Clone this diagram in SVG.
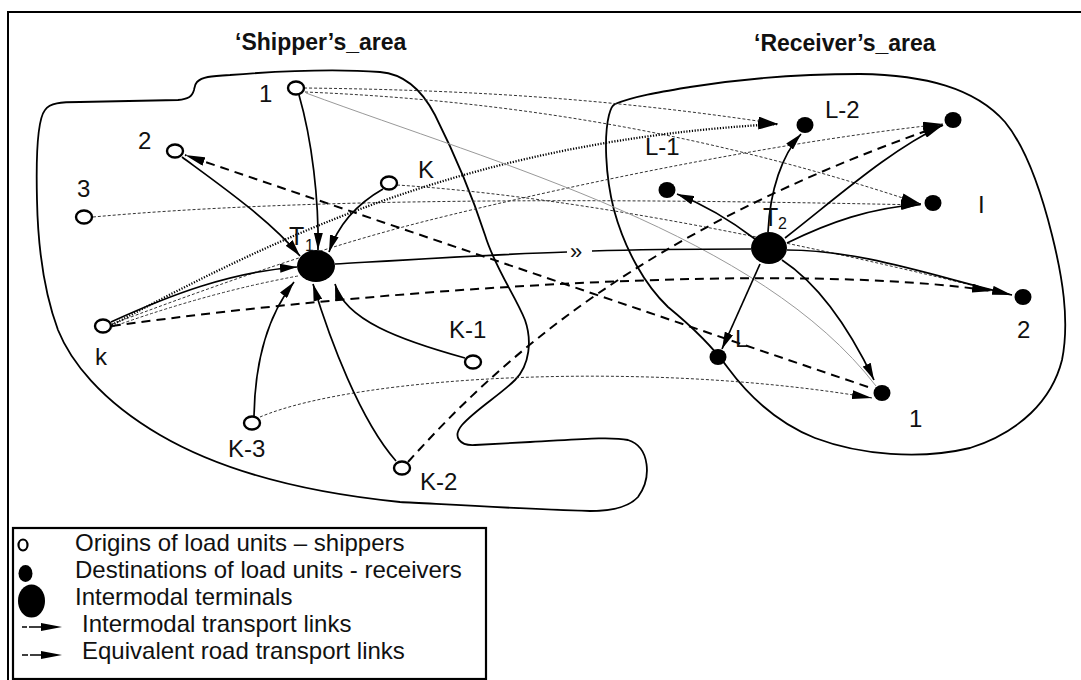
<svg xmlns="http://www.w3.org/2000/svg" width="1081" height="680" viewBox="0 0 1081 680">
<style>
text{font-family:"Liberation Sans",Arial,sans-serif;fill:#111}
.title{font-size:23px;font-weight:bold}
.lbl{font-size:24px}
.sub{font-size:16px}
.leg{font-size:24px}
.area{fill:none;stroke:#000;stroke-width:1.8}
.orig{fill:#fff;stroke:#000;stroke-width:2.4}
.dest{fill:#000}
.sol{fill:none;stroke:#000;stroke-width:1.7}
.dash{fill:none;stroke:#000;stroke-width:2;stroke-dasharray:9 6}
.fdot{fill:none;stroke:#333;stroke-width:1;stroke-dasharray:3 2}
.tdot{fill:none;stroke:#000;stroke-width:2.3;stroke-dasharray:1.2 1.6}
.gray{fill:none;stroke:#999;stroke-width:1}
</style>
<defs>
<marker id="ah" viewBox="0 0 17 9" refX="17" refY="4.5" markerWidth="17" markerHeight="9" orient="auto" markerUnits="userSpaceOnUse"><path d="M0,0 L17,4.5 L0,9 z" fill="#000"/></marker>
<marker id="ahb" viewBox="0 0 20 9" refX="20" refY="4.5" markerWidth="20" markerHeight="9" orient="auto" markerUnits="userSpaceOnUse"><path d="M0,0 L20,4.5 L0,9 z" fill="#000"/></marker>
</defs>
<rect width="1081" height="680" fill="#fff"/>
<g id="frame">
<path d="M8,680 L8,12 L1081,12" fill="none" stroke="#000" stroke-width="2"/>
</g>
<g id="titles">
<text class="title" x="235" y="50">‘Shipper’s_area</text>
<text class="title" x="754" y="51">‘Receiver’s_area</text>
</g>
<g id="areas">
<path id="shipper-area" class="area" d="M197,82 C202,77 210,76 230,75 C280,71 340,69 380,72 C405,74 422,90 435,115 C455,155 472,195 485,235 C495,268 515,295 525,320 C532,340 530,365 515,380 C500,395 475,410 462,425 C452,437 460,446 475,445 L530,442 C570,440 610,436 628,440 C650,447 652,478 638,497 C628,508 610,511 590,511 C520,509 440,504 400,502 C300,492 220,470 160,435 C100,400 70,360 58,330 C45,295 38,250 37,200 C36,160 37,120 45,110 C50,103 60,102 80,102 L178,100 C188,99 192,97 194,90 C195,85 195,84 197,82 Z"/>
<path id="receiver-area" class="area" d="M615,104 C635,96 660,92 690,87 C740,79 800,74 860,74 C925,75 975,88 1005,122 C1028,150 1042,195 1052,235 C1062,275 1070,320 1062,360 C1052,400 1020,432 970,448 C920,460 860,455 815,438 C775,422 748,395 728,368 C710,343 690,325 668,307 C645,285 625,250 614,210 C605,175 604,135 609,115 C611,108 612,106 615,104 Z"/>
</g>
<g id="connectors">
<path class="fdot" d="M304,88 C480,90 620,100 778,124" marker-end="url(#ahb)"/>
<path class="fdot" d="M305,92 C500,100 700,130 921,204" marker-end="url(#ahb)"/>
<path class="fdot" d="M93,217 C300,198 600,198 921,205" marker-end="url(#ahb)"/>
<path class="fdot" d="M112,324 C230,280 330,245 430,220 S750,145 943,124" marker-end="url(#ahb)"/>
<path class="fdot" d="M112,327 Q210,292 298,276"/>
<path class="fdot" d="M397,185 C550,195 750,230 1012,295"/>
<path class="fdot" d="M260,417 C360,375 650,360 872,398" marker-end="url(#ahb)"/>
<path class="tdot" d="M112,325 C290,230 480,140 778,124" marker-end="url(#ahb)"/>
<path class="gray" d="M306,93 C500,165 760,235 876,386"/>
<path class="dash" d="M868,387 L185,155" marker-end="url(#ahb)"/>
<path class="dash" d="M112,326 C400,286 800,262 992,291" marker-end="url(#ahb)"/>
<path class="dash" d="M408,462 C500,360 640,230 943,125" marker-end="url(#ahb)"/>
<path class="sol" d="M299,95 C312,140 319,200 318,250" marker-end="url(#ah)"/>
<path class="sol" d="M182,157 C220,185 270,220 300,256" marker-end="url(#ah)"/>
<path class="sol" d="M383,189 C355,205 338,225 329,252" marker-end="url(#ah)"/>
<path class="sol" d="M111,322 C170,295 230,272 297,267" marker-end="url(#ah)"/>
<path class="sol" d="M254,416 C255,360 268,315 294,282" marker-end="url(#ah)"/>
<path class="sol" d="M396,461 C360,420 330,340 313,284" marker-end="url(#ah)"/>
<path class="sol" d="M465,358 C400,340 345,320 335,284" marker-end="url(#ah)"/>
<path class="sol" d="M335,264 C420,259 500,254 567,252"/>
<path class="sol" d="M592,251 C650,249 700,249 751,249"/>
<path class="sol" d="M768,232 C770,190 782,155 801,134" marker-end="url(#ah)"/>
<path class="sol" d="M755,239 C730,220 705,205 677,194" marker-end="url(#ah)"/>
<path class="sol" d="M785,238 C840,195 890,150 943,125" marker-end="url(#ahb)"/>
<path class="sol" d="M787,243 C830,222 870,208 921,204" marker-end="url(#ahb)"/>
<path class="sol" d="M787,250 C860,250 930,275 1012,295" marker-end="url(#ahb)"/>
<path class="sol" d="M760,264 L722,349" marker-end="url(#ah)"/>
<path class="sol" d="M782,260 C820,285 850,330 874,380" marker-end="url(#ah)"/>
<text x="570" y="259" style="font-size:22px">»</text>
</g>
<g id="T1"><ellipse cx="316" cy="266" rx="19" ry="16" fill="#000"/><text class="lbl" x="289" y="245" style="font-size:25px">T</text><text class="sub" x="305" y="251">1</text></g>
<g id="T2"><ellipse cx="769" cy="248" rx="18" ry="16" fill="#000"/><text class="lbl" x="763" y="226" style="font-size:25px">T</text><text class="sub" x="778" y="229">2</text></g>
<g id="o1"><ellipse class="orig" cx="296" cy="88" rx="8" ry="6.5"/><text class="lbl" x="259" y="102">1</text></g>
<g id="o2"><ellipse class="orig" cx="175" cy="151" rx="8" ry="6.5"/><text class="lbl" x="138" y="149">2</text></g>
<g id="o3"><ellipse class="orig" cx="84" cy="217" rx="8" ry="6.5"/><text class="lbl" x="77" y="197">3</text></g>
<g id="oK"><ellipse class="orig" cx="389" cy="183" rx="8" ry="6.5"/><text class="lbl" x="418" y="178">K</text></g>
<g id="ok"><ellipse class="orig" cx="103" cy="326" rx="8" ry="6.5"/><text class="lbl" x="95" y="365">k</text></g>
<g id="oK1"><ellipse class="orig" cx="473" cy="362" rx="8" ry="6.5"/><text class="lbl" x="449" y="338">K-1</text></g>
<g id="oK3"><ellipse class="orig" cx="252" cy="423" rx="8" ry="6.5"/><text class="lbl" x="228" y="457">K-3</text></g>
<g id="oK2"><ellipse class="orig" cx="402" cy="468" rx="8" ry="6.5"/><text class="lbl" x="420" y="490">K-2</text></g>
<g id="dL2"><ellipse class="dest" cx="805" cy="125" rx="8.5" ry="8"/><text class="lbl" x="825" y="118">L-2</text></g>
<g id="dTR"><ellipse class="dest" cx="953" cy="120" rx="8.5" ry="8"/></g>
<g id="dL1"><ellipse class="dest" cx="667" cy="190" rx="8.5" ry="8"/><text class="lbl" x="645" y="155">L-1</text></g>
<g id="dI"><ellipse class="dest" cx="933" cy="203" rx="8.5" ry="8"/><text class="lbl" x="978" y="213">I</text></g>
<g id="d2"><ellipse class="dest" cx="1023" cy="297" rx="8.5" ry="8"/><text class="lbl" x="1017" y="338">2</text></g>
<g id="dL"><ellipse class="dest" cx="718" cy="357" rx="8.5" ry="8"/><text class="lbl" x="735" y="347">L</text></g>
<g id="d1"><ellipse class="dest" cx="882" cy="393" rx="8.5" ry="8"/><text class="lbl" x="909" y="427">1</text></g>
<g id="legend">
<rect x="13" y="528" width="473" height="151" fill="none" stroke="#000" stroke-width="2.2"/>
<ellipse cx="23" cy="545" rx="4.5" ry="5.5" fill="#fff" stroke="#000" stroke-width="2.2"/>
<ellipse cx="25.5" cy="573.5" rx="7" ry="8.5" fill="#000"/>
<ellipse cx="31.5" cy="601" rx="13.5" ry="16.5" fill="#000"/>
<path d="M22,627 L27,627 M29,627 L42,627" stroke="#000" stroke-width="1.5"/>
<path d="M41,623 L62,627 L41,631 z" fill="#000"/>
<path d="M22,655 L28,655 M30,655 L42,655" stroke="#000" stroke-width="1.5"/>
<path d="M41,651 L62,655 L41,659 z" fill="#000"/>
<text class="leg" x="75" y="551">Origins of load units – shippers</text>
<text class="leg" x="75" y="578">Destinations of load units - receivers</text>
<text class="leg" x="75" y="605">Intermodal terminals</text>
<text class="leg" x="82" y="632">Intermodal transport links</text>
<text class="leg" x="82" y="659">Equivalent road transport links</text>
</g>
</svg>
